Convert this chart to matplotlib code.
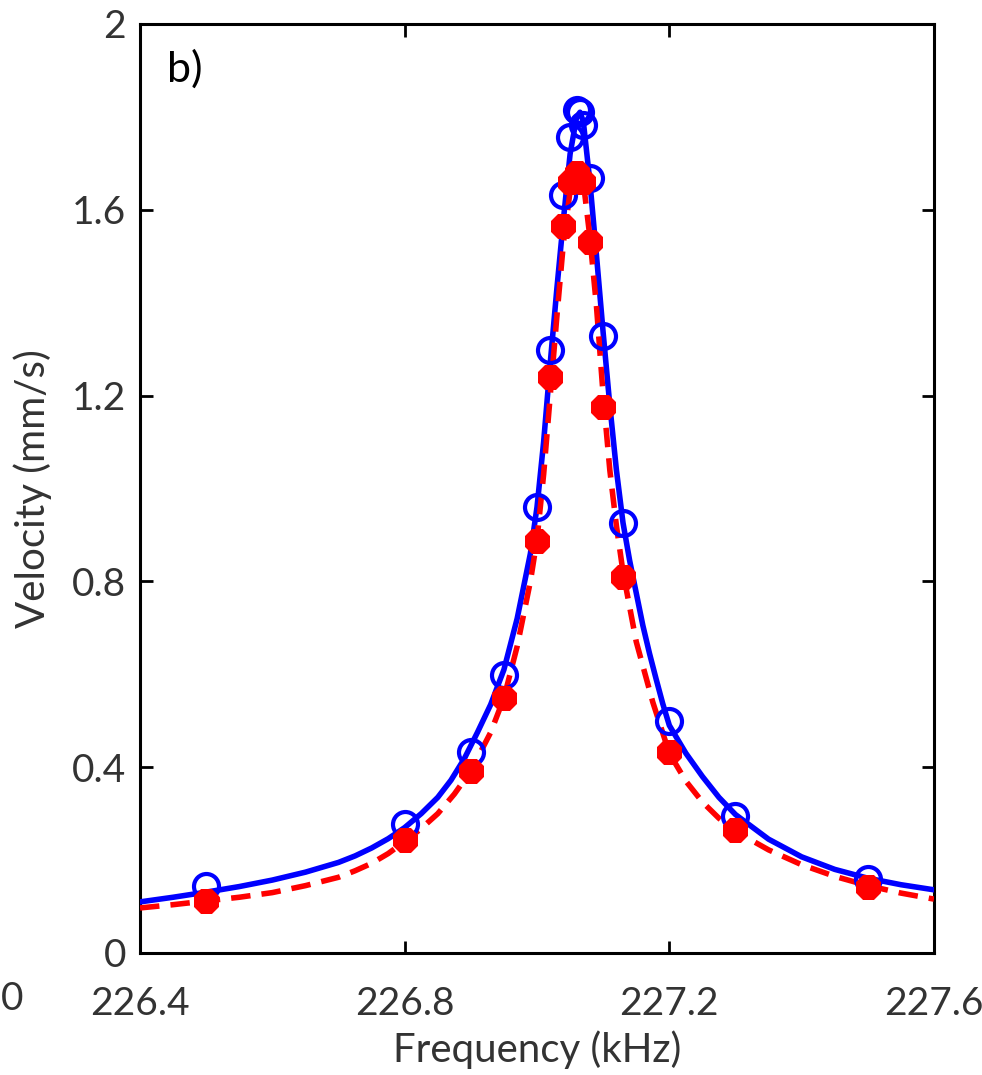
import numpy as np
import matplotlib
matplotlib.use("Agg")
import matplotlib.pyplot as plt

plt.rcParams['font.family'] = ['Lato', 'DejaVu Sans']

# measured points
freq_meas_blue = [226.5, 226.8, 226.9, 226.95, 227.0, 227.02, 227.04, 227.05,
                  227.06, 227.065, 227.07, 227.08, 227.1, 227.13, 227.2, 227.3, 227.5]
vel_meas_blue = [0.144, 0.278, 0.433, 0.598, 0.960, 1.298, 1.632, 1.757,
                 1.815, 1.81, 1.783, 1.668, 1.328, 0.926, 0.500, 0.295, 0.159]

freq_meas_red = [226.5, 226.8, 226.9, 226.95, 227.0, 227.02, 227.04, 227.05,
                 227.06, 227.07, 227.08, 227.1, 227.13, 227.2, 227.3, 227.5]
vel_meas_red = [0.112, 0.243, 0.392, 0.549, 0.887, 1.240, 1.565, 1.66,
                1.68, 1.66, 1.530, 1.175, 0.810, 0.433, 0.265, 0.142]

# fitted curves
freq_fit_blue = [226.40, 226.45, 226.50, 226.55, 226.60, 226.65, 226.70, 226.725,
                 226.75, 226.775, 226.80, 226.825, 226.85, 226.87, 226.89, 226.91,
                 226.93, 226.95, 226.97, 226.99, 227.00, 227.01, 227.02, 227.03,
                 227.04, 227.05, 227.06, 227.065, 227.07, 227.08, 227.09, 227.10,
                 227.11, 227.12, 227.13, 227.14, 227.15, 227.16, 227.17, 227.18,
                 227.19, 227.20, 227.225, 227.25, 227.275, 227.30, 227.35, 227.40,
                 227.45, 227.50, 227.55, 227.60]
vel_fit_blue = [0.110, 0.120, 0.131, 0.143, 0.157, 0.174, 0.195, 0.209,
                0.226, 0.246, 0.270, 0.300, 0.335, 0.372, 0.418, 0.475,
                0.535, 0.610, 0.720, 0.860, 0.960, 1.100, 1.270, 1.430,
                1.580, 1.720, 1.800, 1.810, 1.790, 1.660, 1.500, 1.335,
                1.180, 1.040, 0.926, 0.845, 0.775, 0.705, 0.645, 0.590,
                0.537, 0.490, 0.430, 0.380, 0.335, 0.298, 0.245, 0.207,
                0.180, 0.161, 0.147, 0.136]

freq_fit_red = [226.40, 226.45, 226.50, 226.55, 226.60, 226.65, 226.70, 226.725,
                226.75, 226.775, 226.80, 226.825, 226.85, 226.875, 226.90, 226.93,
                226.95, 226.97, 226.99, 227.00, 227.01, 227.02, 227.03, 227.04,
                227.05, 227.06, 227.07, 227.08, 227.09, 227.10, 227.11, 227.12,
                227.13, 227.15, 227.175, 227.20, 227.225, 227.25, 227.275, 227.30,
                227.35, 227.40, 227.45, 227.50, 227.55, 227.60]
vel_fit_red = [0.097, 0.104, 0.112, 0.120, 0.130, 0.145, 0.163, 0.177,
               0.193, 0.214, 0.240, 0.268, 0.300, 0.342, 0.392, 0.475,
               0.549, 0.660, 0.800, 0.890, 1.030, 1.200, 1.370, 1.530,
               1.640, 1.690, 1.660, 1.540, 1.390, 1.200, 1.040, 0.920,
               0.820, 0.670, 0.540, 0.430, 0.370, 0.325, 0.290, 0.262,
               0.222, 0.190, 0.165, 0.145, 0.129, 0.116]

xticks = [226.4, 226.8, 227.2, 227.6]
yticks = [0, 0.4, 0.8, 1.2, 1.6, 2]
yticklabels = ['0', '0.4', '0.8', '1.2', '1.6', '2']

fig = plt.figure(figsize=(9.82, 10.75), dpi=100)
ax = fig.add_axes([0.1426, 0.1135, 0.8085, 0.8642])

ax.plot(freq_fit_blue, vel_fit_blue, '-', color='#0000ff', lw=4, zorder=3)
ax.plot(freq_fit_red, vel_fit_red, '--', color='#ff0000', lw=4, dashes=(3.5, 2), zorder=4)
ax.plot(freq_meas_blue, vel_meas_blue, 'o', mfc='none', mec='#0000ff', ms=18, mew=3, zorder=5)
ax.plot(freq_meas_red, vel_meas_red, linestyle='none', marker=(8, 2, 0), mec='#ff0000',
        mfc='#ff0000', ms=18, mew=7, zorder=6)

ax.set_xlim(226.4, 227.6)
ax.set_ylim(0, 2)
ax.set_xticks(xticks)
ax.set_xticklabels([str(t) for t in xticks])
ax.set_yticks(yticks)
ax.set_yticklabels(yticklabels)
ax.tick_params(direction='in', length=9, width=2, top=True, right=True,
               labelsize=28, colors='black', labelcolor='#333333')
ax.tick_params(axis='x', pad=24)
ax.tick_params(axis='y', pad=10)
for s in ax.spines.values():
    s.set_linewidth(2.2)

ax.set_xlabel('Frequency (kHz)', fontsize=29, color='#333333', labelpad=6)
ax.set_ylabel('Velocity (mm/s)', fontsize=29, color='#333333', labelpad=14)
ax.text(0.034, 0.9376, 'b)', transform=ax.transAxes, fontsize=31, va='baseline', ha='left')

# label remnant from neighbouring panel at far left
fig.text(0.001, 0.0705, '0', fontsize=28, color='#333333', ha='left', va='center')

fig.savefig('out.png', dpi=100)
